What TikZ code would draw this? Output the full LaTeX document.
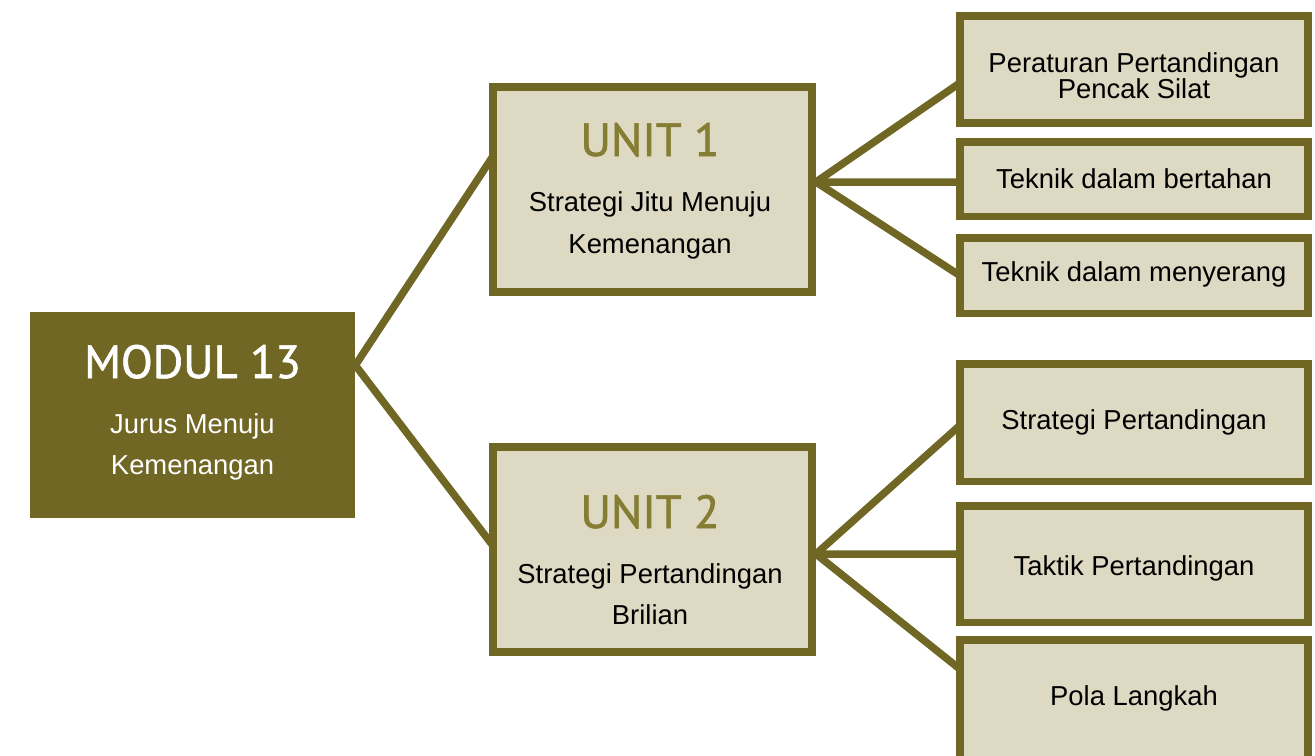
\documentclass[tikz,border=0pt]{standalone}
\usepackage{fontspec}
\setmainfont{Liberation Sans}
\newfontfamily\judulfont[FakeBold=1.4]{PT Sans}
\usetikzlibrary{backgrounds}
\definecolor{zaitun}{HTML}{6F6723}
\definecolor{krem}{HTML}{DDD9C3}
\definecolor{judul}{HTML}{857D33}
\tikzstyle{modul}=[rectangle, fill=zaitun, minimum width=6.5cm, minimum height=4.12cm, inner sep=0pt]
\tikzstyle{unit}=[rectangle, draw=zaitun, fill=krem, line width=0.15cm, minimum width=6.39cm, minimum height=4.1cm, inner sep=0pt]
\tikzstyle{materi}=[rectangle, draw=zaitun, fill=krem, line width=0.15cm, minimum width=6.97cm, inner sep=0pt]
\tikzstyle{teks}=[anchor=base, inner sep=0pt, font=\fontsize{15.6}{15}\selectfont]
\tikzstyle{judulteks}=[anchor=base, inner sep=0pt, font=\judulfont\fontsize{26.5}{30}\selectfont]
\tikzstyle{garis}=[zaitun, line width=0.15cm, line join=miter]

\begin{document}
\begin{tikzpicture}[x=0.02cm, y=-0.02cm]
\path[clip] (0,0) rectangle (1315,755);
% modul
\node [modul] (m) at (192.5,415){};
\node [judulteks, text=white] (mj) at (192.5,378){MODUL 13};
\node [teks, text=white] (m1) at (192.5,433){Jurus Menuju}; \node [teks, text=white] (m2) at (192.5,474){Kemenangan};
% unit
\node [unit] (u1) at (652.5,189.5){};
\node [judulteks, text=judul] (u1j) at (650,156){UNIT 1};
\node [teks] (u11) at (650,211.5){Strategi Jitu Menuju}; \node [teks] (u12) at (650,253){Kemenangan};
\node [unit] (u2) at (652.5,549.5){};
\node [judulteks, text=judul] (u2j) at (650,528){UNIT 2};
\node [teks] (u21) at (650,583){Strategi Pertandingan}; \node [teks] (u22) at (650,624){Brilian};
% materi
\node [materi, minimum height=2.15cm] (a) at (1134,69.5){};
\node [materi, minimum height=1.49cm] (b) at (1134,179){};
\node [materi, minimum height=1.51cm] (c) at (1134,275.5){};
\node [materi, minimum height=2.35cm] (d) at (1134,422.5){};
\node [materi, minimum height=2.33cm] (e) at (1134,564){};
\node [materi, minimum height=2.8cm] (f) at (1134,710){};
\node [teks] (a1) at (1134,72){Peraturan Pertandingan}; \node [teks] (a2) at (1134,98.5){Pencak Silat};
\node [teks] (b1) at (1134,188.5){Teknik dalam bertahan};
\node [teks] (c1) at (1134,281.7){Teknik dalam menyerang};
\node [teks] (d1) at (1134,429){Strategi Pertandingan};
\node [teks] (e1) at (1134,575){Taktik Pertandingan};
\node [teks] (f1) at (1134,705){Pola Langkah};
\begin{scope}[on background layer]
\draw [garis] ([xshift=0.075cm, yshift=0.66cm]u1.west) -- (m.17) -- ([xshift=0.075cm, yshift=0.08cm]u2.west);
\draw [garis] ([xshift=0.075cm, yshift=-0.27cm]a.west) -- ([yshift=0.15cm]u1.east) -- ([xshift=0.075cm]c.west);
\draw [garis] ([yshift=0.15cm]u1.east) -- ([xshift=0.075cm, yshift=-0.06cm]b.west);
\draw [garis] ([xshift=0.075cm, yshift=-0.06cm]d.west) -- ([yshift=-0.09cm]u2.east) -- ([xshift=0.075cm, yshift=0.82cm]f.west);
\draw [garis] ([yshift=-0.09cm]u2.east) -- ([xshift=0.075cm, yshift=0.2cm]e.west);
\end{scope}
\end{tikzpicture}
\end{document}
